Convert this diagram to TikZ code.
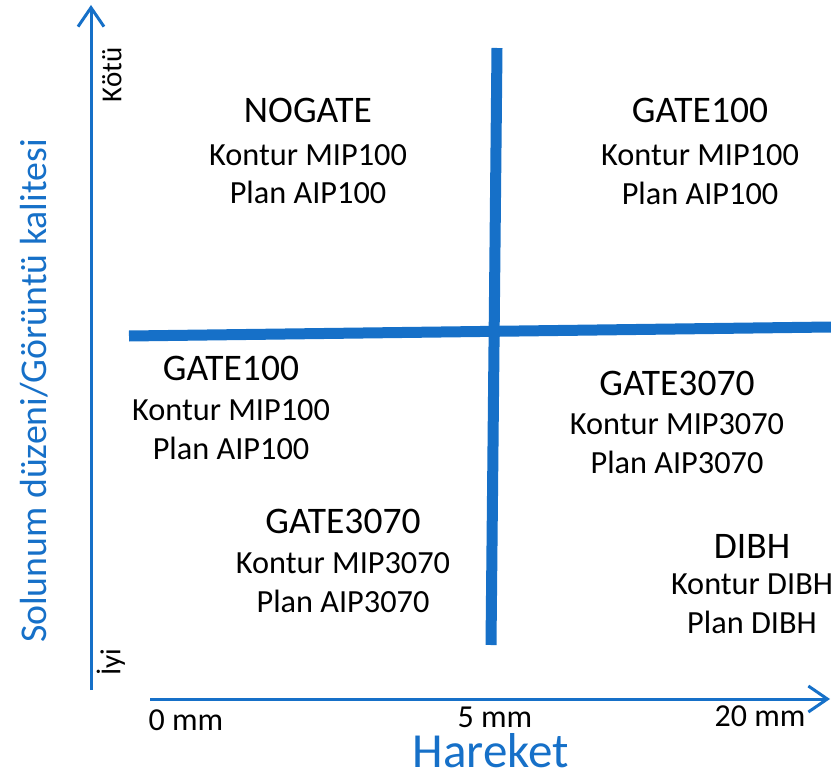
\documentclass[tikz,border=0pt]{standalone}
\usepackage{fontspec}
\setmainfont{Carlito}
\usetikzlibrary{arrows.meta}
\definecolor{axisblue}{RGB}{22,112,200}
\tikzset{
  axis/.style={draw=axisblue, line width=3pt, -{Straight Barb[length=19pt,width=26pt,line width=3pt]}},
  divider/.style={draw=axisblue, line width=11pt},
  title/.style={font=\fontsize{37.5}{40}\selectfont, inner sep=0pt, anchor=center},
  sub/.style={font=\fontsize{32.3}{36}\selectfont, inner sep=0pt, anchor=center},
  tick/.style={font=\fontsize{32}{34}\selectfont, inner sep=0pt, anchor=center},
  endlbl/.style={font=\fontsize{29}{32}\selectfont, inner sep=0pt, anchor=center, rotate=90},
}
\begin{document}
\begin{tikzpicture}[x=1pt, y=-1pt]
\useasboundingbox (0,0) rectangle (831,776);

% axes
\coordinate (yb) at (91,690);
\coordinate (yt) at (91,5);
\coordinate (xl) at (150,699);
\coordinate (xr) at (830,699);
\draw[axis] (yb) -- (yt);
\draw[axis] (xl) -- (xr);

% quadrant dividers
\coordinate (hl) at (129,336);
\coordinate (hr) at (831,327);
\coordinate (vt) at (497,48);
\coordinate (vb) at (491,645);
\draw[divider] (hl) -- (hr);
\draw[divider] (vt) -- (vb);

% axis labels
\node[font=\fontsize{37.8}{40}\selectfont, text=axisblue, rotate=90, inner sep=0pt] (ylab) at (34,391) {Solunum düzeni/Görüntü kalitesi};
\node[font=\fontsize{49}{52}\selectfont, text=axisblue, inner sep=0pt] (xlab) at (491,751) {Hareket};
\node[endlbl] (bad) at (112,75) {Kötü};
\node[endlbl] (good) at (111,662) {İyi};
\node[tick] (t0) at (186,720) {0 mm};
\node[tick] (t5) at (495,717) {5 mm};
\node[tick] (t20) at (760,716) {20 mm};

% upper left
\node[title] (a1) at (308,110) {NOGATE};
\node[sub] (a2) at (308,155) {Kontur MIP100};
\node[sub] (a3) at (308,192) {Plan AIP100};

% upper right
\node[title] (b1) at (700,110) {GATE100};
\node[sub] (b2) at (700,155) {Kontur MIP100};
\node[sub] (b3) at (700,193) {Plan AIP100};

% lower left
\node[title] (c1) at (231,368) {GATE100};
\node[sub] (c2) at (231,410) {Kontur MIP100};
\node[sub] (c3) at (231,448) {Plan AIP100};

\node[title] (d1) at (343,521) {GATE3070};
\node[sub] (d2) at (343,563) {Kontur MIP3070};
\node[sub] (d3) at (343,601) {Plan AIP3070};

% lower right
\node[title] (e1) at (677,383) {GATE3070};
\node[sub] (e2) at (677,424) {Kontur MIP3070};
\node[sub] (e3) at (677,462) {Plan AIP3070};

\node[title] (f1) at (752,546) {DIBH};
\node[sub] (f2) at (752,584) {Kontur DIBH};
\node[sub] (f3) at (752,622) {Plan DIBH};
\end{tikzpicture}
\end{document}
